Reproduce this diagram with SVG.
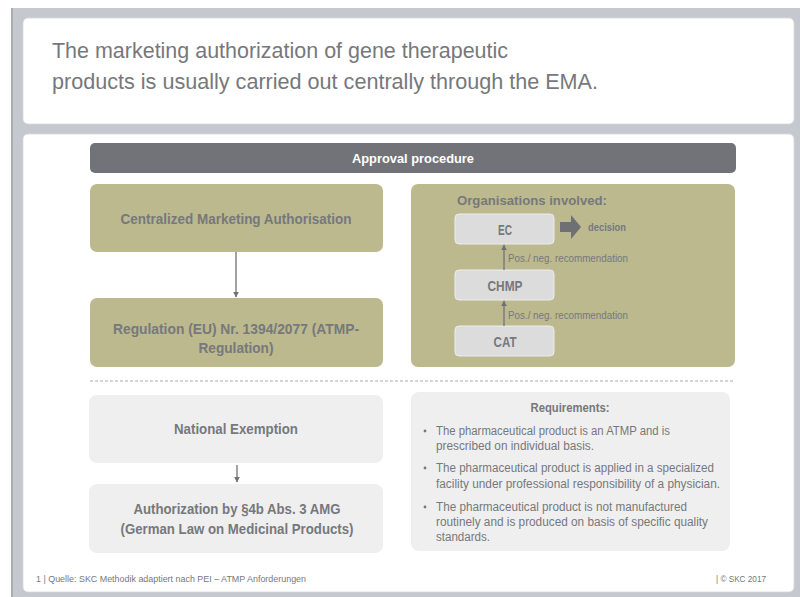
<svg xmlns="http://www.w3.org/2000/svg" width="800" height="597" viewBox="0 0 800 597">
<defs>
<style>
.t{font-family:"Liberation Sans",Arial,sans-serif;fill:#76787c}
.b{font-weight:bold}
.olive{fill:#bcb98f}
.light{fill:#efefef}
.org{fill:#dcdcdc;stroke:#ececec;stroke-width:1}
.conn{stroke:#707176;stroke-width:1.3;fill:none}
</style>
<marker id="ah" viewBox="0 0 10 10" refX="9" refY="5" markerWidth="6" markerHeight="6" orient="auto" markerUnits="userSpaceOnUse">
<path d="M0,0 L10,5 L0,10 z" fill="#707176"/>
</marker>
</defs>
<rect x="0" y="0" width="800" height="597" fill="#ffffff"/>
<rect x="11" y="8" width="789" height="589" fill="#c5c8ce"/>
<rect x="11" y="8" width="2" height="589" fill="#a9acb2"/>
<rect x="23" y="18" width="771" height="106" rx="5" fill="#ffffff" stroke="#d6d8dc" stroke-width="0.8"/>
<rect x="23" y="134" width="771" height="458" rx="5" fill="#ffffff" stroke="#d6d8dc" stroke-width="0.8"/>

<g id="title">
<text class="t" x="52" y="58" font-size="22.5" fill="#6e7075" textLength="456" lengthAdjust="spacingAndGlyphs">The marketing authorization of gene therapeutic</text>
<text class="t" x="52" y="89" font-size="22.5" textLength="546" lengthAdjust="spacingAndGlyphs">products is usually carried out centrally through the EMA.</text>
</g>

<g id="header">
<rect x="90" y="143" width="646" height="30" rx="5" fill="#727378"/>
<text x="413" y="163" font-size="13.5" font-family="Liberation Sans,Arial,sans-serif" font-weight="bold" fill="#ffffff" text-anchor="middle" textLength="122" lengthAdjust="spacingAndGlyphs">Approval procedure</text>
</g>

<g id="cma">
<rect class="olive" x="90" y="184" width="293" height="68" rx="7"/>
<text class="t b" x="236" y="224" font-size="15" text-anchor="middle" textLength="231" lengthAdjust="spacingAndGlyphs">Centralized Marketing Authorisation</text>
</g>
<g id="regulation">
<rect class="olive" x="90" y="298" width="293" height="69" rx="7"/>
<text class="t b" x="236" y="334" font-size="15" text-anchor="middle" textLength="246" lengthAdjust="spacingAndGlyphs">Regulation (EU) Nr. 1394/2077 (ATMP-</text>
<text class="t b" x="236" y="353" font-size="15" text-anchor="middle" textLength="75" lengthAdjust="spacingAndGlyphs">Regulation)</text>
</g>

<g id="orgs">
<rect class="olive" x="411" y="184" width="324" height="183" rx="7"/>
<text class="t b" x="457" y="205" font-size="13.5" textLength="150" lengthAdjust="spacingAndGlyphs">Organisations involved:</text>
</g>
<g id="ec">
<rect class="org" x="455" y="214" width="99" height="30" rx="4"/>
<text class="t b" x="505" y="235" font-size="15" text-anchor="middle" textLength="14" lengthAdjust="spacingAndGlyphs">EC</text>
</g>
<g id="chmp">
<rect class="org" x="455" y="270" width="99" height="30" rx="4"/>
<text class="t b" x="505" y="291" font-size="15" text-anchor="middle" textLength="35" lengthAdjust="spacingAndGlyphs">CHMP</text>
</g>
<g id="cat">
<rect class="org" x="455" y="326" width="99" height="30" rx="4"/>
<text class="t b" x="505" y="347" font-size="15" text-anchor="middle" textLength="23" lengthAdjust="spacingAndGlyphs">CAT</text>
</g>
<g id="decision">
<path d="M560,222 L571,222 L571,215 L581,227 L571,239 L571,232 L560,232 z" fill="#6f7075"/>
<text class="t b" x="588" y="231" font-size="10" textLength="38" lengthAdjust="spacingAndGlyphs">decision</text>
</g>

<g id="national">
<rect class="light" x="89" y="395" width="294" height="68" rx="8"/>
<text class="t b" x="236" y="434" font-size="15" text-anchor="middle" textLength="124" lengthAdjust="spacingAndGlyphs">National Exemption</text>
</g>
<g id="amg">
<rect class="light" x="89" y="484" width="294" height="69" rx="8"/>
<text class="t b" x="237" y="514" font-size="15" text-anchor="middle" textLength="207" lengthAdjust="spacingAndGlyphs">Authorization by §4b Abs. 3 AMG</text>
<text class="t b" x="237" y="534" font-size="15" text-anchor="middle" textLength="233" lengthAdjust="spacingAndGlyphs">(German Law on Medicinal Products)</text>
</g>

<g id="requirements">
<rect class="light" x="411" y="392" width="319" height="159" rx="8"/>
<text class="t b" x="570" y="412" font-size="12.5" text-anchor="middle" textLength="79" lengthAdjust="spacingAndGlyphs">Requirements:</text>
<g font-size="12">
<circle cx="425" cy="431" r="1.4" fill="#76787c"/>
<text class="t" x="436" y="435" textLength="234" lengthAdjust="spacingAndGlyphs">The pharmaceutical product is an ATMP and is</text>
<text class="t" x="436" y="450" textLength="158" lengthAdjust="spacingAndGlyphs">prescribed on individual basis.</text>
<circle cx="425" cy="468" r="1.4" fill="#76787c"/>
<text class="t" x="436" y="472" textLength="278" lengthAdjust="spacingAndGlyphs">The pharmaceutical product is applied in a specialized</text>
<text class="t" x="436" y="488" textLength="284" lengthAdjust="spacingAndGlyphs">facility under professional responsibility of a physician.</text>
<circle cx="425" cy="507" r="1.4" fill="#76787c"/>
<text class="t" x="436" y="511" textLength="251" lengthAdjust="spacingAndGlyphs">The pharmaceutical product is not manufactured</text>
<text class="t" x="436" y="526" textLength="272" lengthAdjust="spacingAndGlyphs">routinely and is produced on basis of specific quality</text>
<text class="t" x="436" y="541" textLength="54" lengthAdjust="spacingAndGlyphs">standards.</text>
</g>
</g>

<g id="connectors">
<line class="conn" x1="236" y1="252" x2="236" y2="297" marker-end="url(#ah)"/>
<line class="conn" x1="237" y1="465" x2="237" y2="482" marker-end="url(#ah)"/>
<line class="conn" x1="504" y1="270" x2="504" y2="245" marker-end="url(#ah)"/>
<line class="conn" x1="504" y1="326" x2="504" y2="301" marker-end="url(#ah)"/>
<text class="t" x="508" y="262" font-size="10" textLength="120" lengthAdjust="spacingAndGlyphs">Pos./ neg. recommendation</text>
<text class="t" x="508" y="319" font-size="10" textLength="120" lengthAdjust="spacingAndGlyphs">Pos./ neg. recommendation</text>
</g>

<line x1="90" y1="381" x2="735" y2="381" stroke="#a8a9ad" stroke-width="1" stroke-dasharray="3,2"/>

<g id="footer">
<text class="t" x="36" y="582" font-size="8.5" textLength="270" lengthAdjust="spacingAndGlyphs">1 | Quelle: SKC Methodik adaptiert nach PEI – ATMP Anforderungen</text>
<text class="t" x="766" y="582" font-size="8.5" text-anchor="end" textLength="50" lengthAdjust="spacingAndGlyphs">| © SKC 2017</text>
</g>
</svg>
